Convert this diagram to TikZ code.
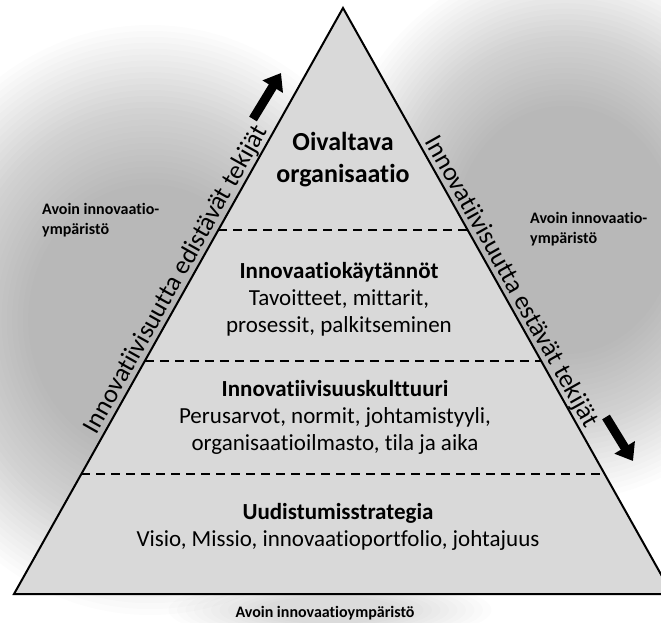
\documentclass[tikz,border=0pt]{standalone}
\usepackage{fontspec}
\setmainfont{Carlito}[Ligatures=NoCommon]
\usetikzlibrary{calc,arrows.meta}

\definecolor{pyramidgray}{RGB}{217,217,217}

\tikzset{
  level/.style={align=center, inner sep=0pt, font=\fontsize{23}{27}\selectfont},
  side/.style={inner sep=1pt, anchor=south, font=\fontsize{26}{30}\selectfont},
  env/.style={align=left, inner sep=0pt, font=\fontsize{16}{20}\selectfont\bfseries},
  divider/.style={dash pattern=on 9pt off 6pt, line width=1.8pt},
  bigarrow/.style={line width=9pt, -{Triangle[width=23pt,length=16pt]}},
  glowstep/.style={fill=black, fill opacity=0.012}
}

\begin{document}
\begin{tikzpicture}[x=1pt, y=-1pt]
    \useasboundingbox (0,0) rectangle (661,623);
    \clip (0,0) rectangle (661,623);

    % grey glow round the pyramid
    \foreach \k in {0,...,27} {
      \fill [glowstep] (150,320) ellipse [x radius={265*(1-\k/50)}, y radius={295*(1-\k/50)}];
      \fill [glowstep] (565,230) ellipse [x radius={240*(1-\k/50)}, y radius={270*(1-\k/50)}];
    }
    \foreach \k in {1,...,12} {
      \fill [glowstep] (330,610) ellipse [x radius={170*(1-\k/20)}, y radius={35*(1-\k/20)}];
    }

    \coordinate (apex) at (343,8);
    \coordinate (baseL) at (14,594);
    \coordinate (baseR) at (672,594);
    \draw [line width=2pt, fill=pyramidgray] (baseL) -- (apex) -- (baseR) -- cycle;

    \coordinate (d1l) at ($(apex)!0.379!(baseL)$);
    \coordinate (d1r) at ($(apex)!0.379!(baseR)$);
    \coordinate (d2l) at ($(apex)!0.602!(baseL)$);
    \coordinate (d2r) at ($(apex)!0.602!(baseR)$);
    \coordinate (d3l) at ($(apex)!0.795!(baseL)$);
    \coordinate (d3r) at ($(apex)!0.795!(baseR)$);
    \draw [divider] (d1l) -- (d1r);
    \draw [divider] (d2l) -- (d2r);
    \draw [divider] (d3l) -- (d3r);

    \node [level, font=\fontsize{26}{32}\selectfont\bfseries] (oivaltava) at (343,160) {Oivaltava\\organisaatio};
    \node [level] (kaytannot) at (339,299) {\textbf{Innovaatiokäytännöt}\\Tavoitteet, mittarit,\\prosessit, palkitseminen};
    \node [level] (kulttuuri) at (335,417) {\textbf{Innovatiivisuuskulttuuri}\\Perusarvot, normit, johtamistyyli,\\organisaatioilmasto, tila ja aika};
    \node [level] (strategia) at (338,527) {\textbf{Uudistumisstrategia}\\Visio, Missio, innovaatioportfolio, johtajuus};

    \node [side, rotate=60.7] (edistavat) at ($(baseL)!0.526!(apex)$) {Innovatiivisuutta edistävät tekijät};
    \node [side, rotate=-60.7] (estavat) at ($(apex)!0.478!(baseR)$) {Innovatiivisuutta estävät tekijät};

    \node [env, anchor=west] (ympL) at (42,220) {Avoin innovaatio-\\ympäristö};
    \node [env, anchor=west] (ympR) at (530,229) {Avoin innovaatio-\\ympäristö};
    \node [env] (ympB) at (325,613) {Avoin innovaatioympäristö};

    \coordinate (upTail) at (253,119);
    \coordinate (upHead) at (281,73);
    \coordinate (downTail) at (606,417);
    \coordinate (downHead) at (633,461);
    \draw [bigarrow] (upTail) -- (upHead);
    \draw [bigarrow] (downTail) -- (downHead);
\end{tikzpicture}
\end{document}
